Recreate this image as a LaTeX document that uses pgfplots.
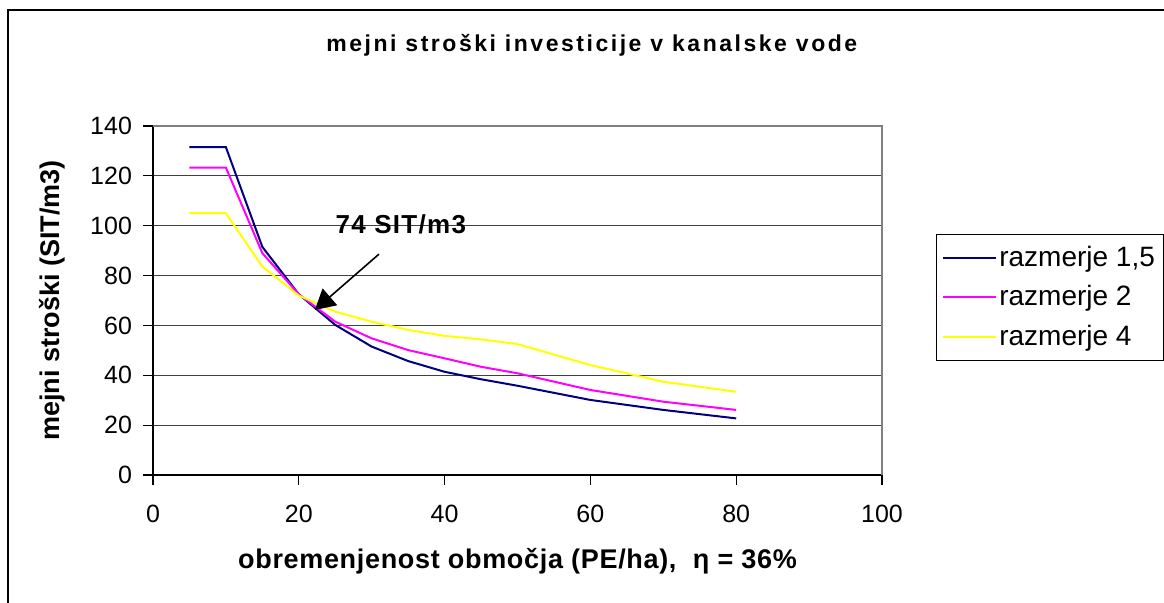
\documentclass[border=0pt]{standalone}
\usepackage{pgfplots}
\pgfplotsset{compat=1.18}
\usepackage{fontspec}
\setmainfont{Liberation Sans}
\usetikzlibrary{arrows.meta}
\definecolor{navyb}{RGB}{0,0,128}
\definecolor{magb}{RGB}{255,0,255}
\definecolor{yelb}{RGB}{255,255,0}
\begin{document}
\begin{tikzpicture}
\useasboundingbox (0,0) rectangle (582pt,301.5pt);
\draw[line width=0.6pt] (4pt,0pt) -- (4pt,296.5pt) -- (582pt,296.5pt);
\node[anchor=base, inner sep=0pt, font=\fontsize{11.5}{13}\selectfont\bfseries\addfontfeature{LetterSpace=11}] at (295.9pt,275.5pt) {mejni stroški investicije v kanalske vode};
\begin{axis}[
  at={(76.5pt,64pt)}, anchor=south west,
  width=364.5pt, height=174.5pt, scale only axis,
  xmin=0, xmax=100, ymin=0, ymax=140,
  xtick={0,20,...,100}, ytick={0,20,...,140},
  axis x line*=bottom, axis y line*=left,
  axis line style={-, line width=0.6pt, black},
  tick style={black, line width=0.6pt},
  tick align=outside, major tick length=5pt,
  ymajorgrids, major grid style={color=black!75, line width=0.5pt},
  clip=false,
  /pgf/number format/assume math mode=true,
  ticklabel style={font=\fontsize{12.5}{14}\selectfont},
  xticklabel style={yshift=-6.5pt},
  yticklabel style={xshift=-2pt},
  xlabel={obremenjenost območja (PE/ha),\ \ η = 36\%},
  xlabel style={at={(axis description cs:0.5,-0.2693)}, anchor=base, inner sep=0pt, font=\fontsize{13.5}{16}\selectfont\bfseries\addfontfeature{LetterSpace=2.5}},
  ylabel={mejni stroški (SIT/m3)},
  ylabel style={at={(axis description cs:-0.1276,0.5)}, anchor=base, inner sep=0pt, font=\fontsize{13.5}{16}\selectfont\bfseries},
  legend style={at={(axis description cs:1.074,0.6905)}, anchor=north west, draw=black, fill=white,
    font=\fontsize{14}{16}\selectfont, inner xsep=3pt, inner ysep=5pt, row sep=6pt,
    nodes={inner sep=1pt}},
  legend cell align=left,
  legend image code/.code={\draw[#1] (0pt,0pt) -- (26.5pt,0pt);},
]
\addplot[navyb, line width=1pt] coordinates {(5,131.5)(10,131.5)(15,91.5)(20,72.5)(25,60.2)(30,51.5)(35,45.7)(40,41.4)(45,38.4)(50,35.8)(60,30.1)(70,26.1)(80,22.7)};
\addlegendentry{razmerje 1,5}
\addplot[magb, line width=1pt] coordinates {(5,123.3)(10,123.3)(15,89)(20,72.5)(25,61.5)(30,54.8)(35,50.1)(40,46.8)(45,43.4)(50,40.8)(60,34.1)(70,29.4)(80,26.1)};
\addlegendentry{razmerje 2}
\addplot[yelb, line width=1pt] coordinates {(5,105)(10,105)(15,83.6)(20,72)(25,65.5)(30,61.5)(35,58.2)(40,55.8)(45,54.4)(50,52.5)(60,44.1)(70,37.4)(80,33.4)};
\addlegendentry{razmerje 4}
\draw[color=black!50, line width=1pt] (rel axis cs:0,1) -- (rel axis cs:1,1) -- (rel axis cs:1,0);
\draw[-{Triangle[length=10pt,width=11pt]}, line width=0.8pt] (axis cs:31,88.6) -- (axis cs:22.2,66.2);
\node[inner sep=0pt, font=\fontsize{13}{15}\selectfont\bfseries\addfontfeature{LetterSpace=5}] at (axis cs:34,100.7) {74 SIT/m3};
\end{axis}
\end{tikzpicture}
\end{document}
